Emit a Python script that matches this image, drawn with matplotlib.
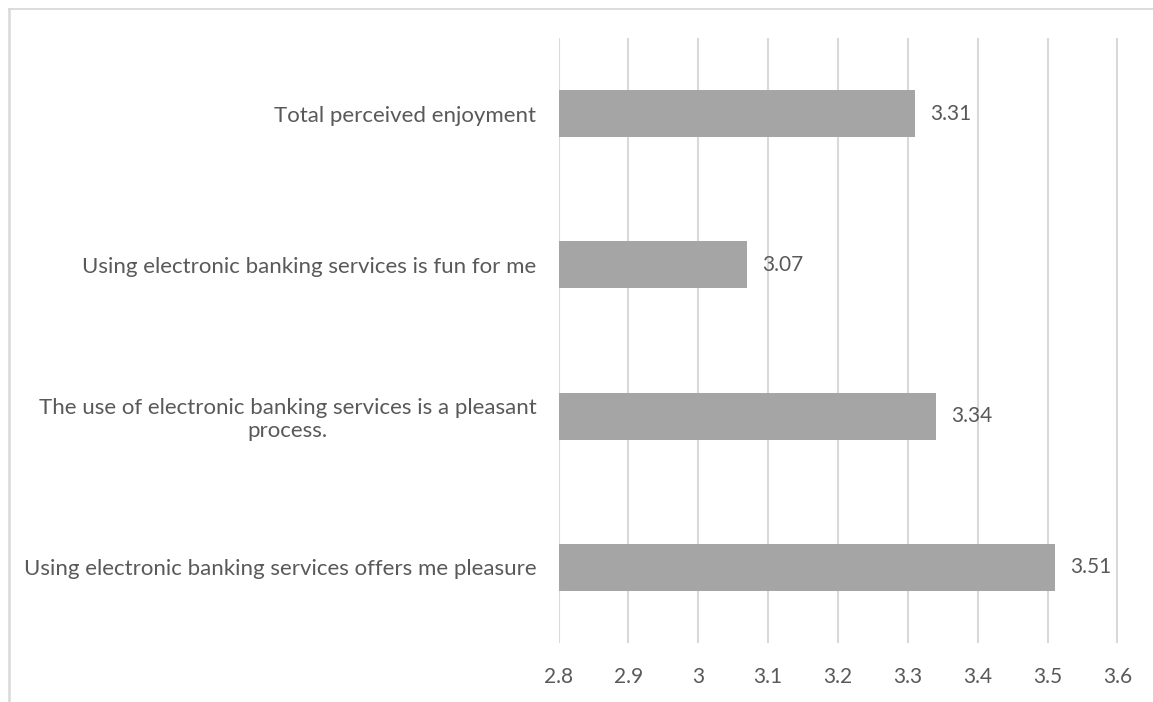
import matplotlib
matplotlib.use("Agg")
import matplotlib.pyplot as plt
from matplotlib.lines import Line2D

categories = [
    "Using electronic banking services offers me pleasure",
    "The use of electronic banking services is a pleasant\nprocess.",
    "Using electronic banking services is fun for me",
    "Total perceived enjoyment",
]
values = [3.51, 3.34, 3.07, 3.31]
xticks = [2.8, 2.9, 3.0, 3.1, 3.2, 3.3, 3.4, 3.5, 3.6]
xtick_labels = ["2.8", "2.9", "3", "3.1", "3.2", "3.3", "3.4", "3.5", "3.6"]

plt.rcParams["font.family"] = ["Lato", "DejaVu Sans"]
text_color = "#595959"
grid_color = "#D9D9D9"
bar_color = "#A5A5A5"

W, H = 1153, 702
fig = plt.figure(figsize=(W / 100, H / 100), dpi=100)
ax = fig.add_axes([558.5 / W, (H - 643) / H, (1117.5 - 558.5) / W, (643 - 38) / H])

ypos = list(range(len(categories)))
ax.barh(ypos, values, height=0.31, left=0, color=bar_color, zorder=3)
ax.set_xlim(2.8, 3.6)
ax.set_ylim(-0.5, len(categories) - 0.5)

ax.set_xticks(xticks)
ax.set_xticklabels(xtick_labels)
ax.set_yticks(ypos)
ax.set_yticklabels(categories, multialignment="center")
ax.tick_params(axis="both", length=0, colors=text_color)
ax.tick_params(axis="x", labelsize=15, pad=17)
ax.tick_params(axis="y", labelsize=16, pad=16)

ax.grid(axis="x", color=grid_color, linewidth=1.5, zorder=0)
for s in ax.spines.values():
    s.set_visible(False)

for y, v in zip(ypos, values):
    ax.annotate(f"{v:.2f}", xy=(v, y), xytext=(11, 0), textcoords="offset points",
                ha="left", va="center", fontsize=15, color=text_color)

# outer chart frame
fig.add_artist(Line2D([9 / W, 1.0], [1 - 9 / H, 1 - 9 / H], transform=fig.transFigure,
                      color=grid_color, linewidth=1.3))
fig.add_artist(Line2D([9 / W, 9 / W], [0, 1 - 9 / H], transform=fig.transFigure,
                      color=grid_color, linewidth=1.8))

fig.savefig("out.png", dpi=100)
